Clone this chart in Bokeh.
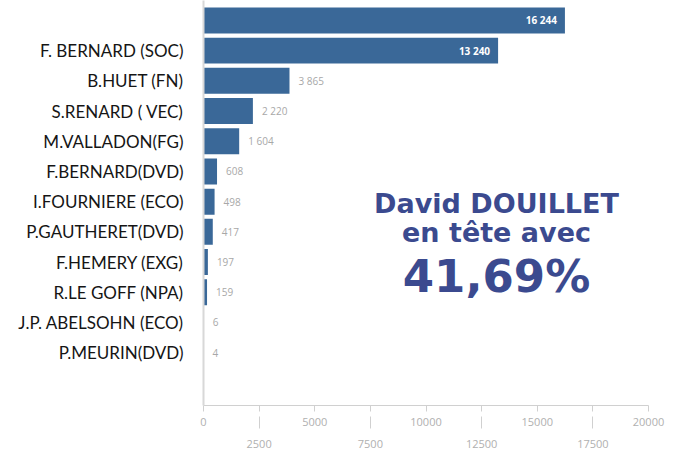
from bokeh.plotting import figure
from bokeh.models import Range1d, FixedTicker, LinearAxis, ColumnDataSource, Label
from bokeh.core.properties import value
from bokeh.embed import file_html
from bokeh.resources import INLINE

# ---- data ----
candidates = ["", "F. BERNARD (SOC)", "B.HUET (FN)", "S.RENARD ( VEC)", "M.VALLADON(FG)",
              "F.BERNARD(DVD)", "I.FOURNIERE (ECO)", "P.GAUTHERET(DVD)", "F.HEMERY (EXG)",
              "R.LE GOFF (NPA)", "J.P. ABELSOHN (ECO)", "P.MEURIN(DVD)"]
votes = [16244, 13240, 3865, 2220, 1604, 608, 498, 417, 197, 159, 6, 4]
ticks_main = [0, 5000, 10000, 15000, 20000]
ticks_alt = [2500, 7500, 12500, 17500]

BAR = "#3a6898"
INK = "#3b4a8f"

pos = list(range(len(candidates)))
labels = [f"{v:,}".replace(",", " ") for v in votes]
inside = [v > 10000 for v in votes]

p = figure(width=679, height=461, output_backend="svg", toolbar_location=None,
           x_range=Range1d(0, 20000), y_range=Range1d(12.75, -0.66),
           min_border_left=203, min_border_right=31, min_border_top=0, min_border_bottom=56,
           x_axis_location=None)
p.outline_line_color = None
p.grid.grid_line_color = None
p.background_fill_color = "white"

p.hbar(y=pos, left=0, right=votes, height=0.86, fill_color=BAR, line_color=None)

src_in = ColumnDataSource(dict(x=[v for v, i in zip(votes, inside) if i],
                               y=[y for y, i in zip(pos, inside) if i],
                               t=[t for t, i in zip(labels, inside) if i]))
src_out = ColumnDataSource(dict(x=[v for v, i in zip(votes, inside) if not i],
                                y=[y for y, i in zip(pos, inside) if not i],
                                t=[t for t, i in zip(labels, inside) if not i]))
p.text(x="x", y="y", text="t", source=src_in, text_align="right", text_baseline="middle",
       x_offset=-8, text_color="white", text_font_style="bold", text_font_size="10px",
       text_font=value("Open Sans"))
p.text(x="x", y="y", text="t", source=src_out, text_align="left", text_baseline="middle",
       x_offset=9, text_color="#a8a8a8", text_font_size="10px", text_font=value("Open Sans"))

# y axis
ya = p.yaxis[0]
ya.ticker = FixedTicker(ticks=pos)
ya.major_label_overrides = {i: c for i, c in zip(pos, candidates)}
ya.major_tick_line_color = None
ya.minor_tick_line_color = None
ya.axis_line_color = "#d8d8d8"
ya.axis_line_width = 2
ya.major_label_standoff = 14
ya.major_label_text_font = "Lato"
ya.major_label_text_font_size = "17px"
ya.major_label_text_color = "#151515"

# x axes (staggered labels)
xa1 = LinearAxis(ticker=FixedTicker(ticks=sorted(ticks_main + ticks_alt)),
                 major_label_overrides={t: "" for t in ticks_alt})
xa1.axis_line_color = "#d0d0d0"
xa1.major_tick_line_color = "#d0d0d0"
xa1.major_tick_out = 6
xa1.major_tick_in = 0
xa1.minor_tick_line_color = None
xa1.major_label_text_color = "#b0b0b0"
xa1.major_label_text_font_size = "11px"
xa1.major_label_text_font = "Open Sans"
xa1.major_label_standoff = 6
p.add_layout(xa1, "below")

xa2 = LinearAxis(ticker=FixedTicker(ticks=ticks_alt))
xa2.axis_line_color = None
xa2.major_tick_line_color = "#d0d0d0"
xa2.major_tick_in = 12
xa2.major_tick_out = 0
xa2.minor_tick_line_color = None
xa2.major_label_text_color = "#b0b0b0"
xa2.major_label_text_font_size = "11px"
xa2.major_label_text_font = "Open Sans"
xa2.major_label_standoff = 11
p.add_layout(xa2, "below")

# annotation (screen units relative to plot frame: left=203, bottom=405)
for txt, yy, size in [("David DOUILLET", 203, "27px"), ("en tête avec", 232, "27px"),
                      ("41,69%", 276, "45px")]:
    p.add_layout(Label(x=496 - 203, y=405 - yy, x_units="screen", y_units="screen", text=txt,
                       text_align="center", text_baseline="middle", text_color=INK,
                       text_font="DejaVu Sans", text_font_style="bold", text_font_size=size))

open("out.html", "w").write(file_html(p, INLINE))
